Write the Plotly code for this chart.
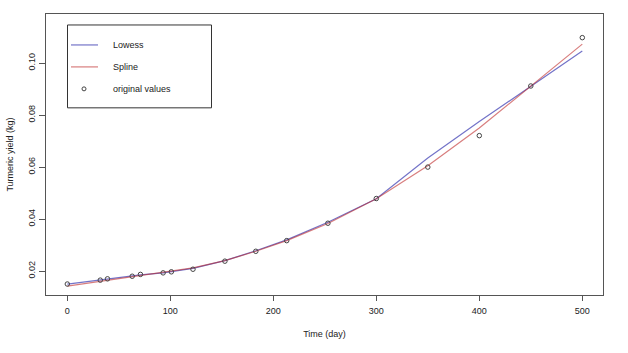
import plotly.graph_objects as go

# Data
time_day = [0, 32, 39, 63, 71, 93, 101, 122, 153, 183, 213, 253, 300, 350, 400, 450, 500]
yield_kg = [0.0150, 0.0165, 0.0170, 0.0180, 0.0187, 0.0193, 0.0197, 0.0207, 0.0238,
            0.0276, 0.0317, 0.0384, 0.0479, 0.0600, 0.0721, 0.0912, 0.1098]
lowess_fit = [0.0150, 0.0166, 0.0170, 0.0180, 0.0185, 0.0193, 0.0197, 0.0210, 0.0240,
              0.0278, 0.0320, 0.0388, 0.0478, 0.0635, 0.0775, 0.0912, 0.1047]
spline_fit = [0.0142, 0.0160, 0.0165, 0.0178, 0.0183, 0.0195, 0.0199, 0.0212, 0.0240,
              0.0276, 0.0317, 0.0383, 0.0478, 0.0605, 0.0750, 0.0912, 0.1073]

x_ticks = [0, 100, 200, 300, 400, 500]
y_ticks = [0.02, 0.04, 0.06, 0.08, 0.10]
y_tick_labels = ["0.02", "0.04", "0.06", "0.08", "0.10"]
legend_labels = ["Lowess", "Spline", "original values"]

BLUE = "rgba(40,40,170,0.65)"
RED = "rgba(190,40,40,0.6)"
FONT = "Liberation Sans, Arial, sans-serif"

fig = go.Figure()
fig.add_trace(go.Scatter(x=time_day, y=lowess_fit, mode="lines",
                         line=dict(color=BLUE, width=1.2), showlegend=False))
fig.add_trace(go.Scatter(x=time_day, y=spline_fit, mode="lines",
                         line=dict(color=RED, width=1.2), showlegend=False))
fig.add_trace(go.Scatter(x=time_day, y=yield_kg, mode="markers",
                         marker=dict(symbol="circle-open", size=4.5, color="#444444",
                                     line=dict(width=1)), showlegend=False))

W, H = 628, 353
ml, mr, mt, mb = 46, 25, 14, 57.5
pw, ph = W - ml - mr, H - mt - mb

def px(x):
    return (x - ml) / pw

def py(y):
    return 1 - (y - mt) / ph

shapes = []
annotations = []
# custom legend box
shapes.append(dict(type="rect", xref="paper", yref="paper",
                   x0=px(67.5), x1=px(211.5), y0=py(108), y1=py(25),
                   line=dict(color="#333333", width=1), fillcolor="white"))
rows = [45, 67, 89]
shapes.append(dict(type="line", xref="paper", yref="paper",
                   x0=px(71), x1=px(98), y0=py(rows[0]), y1=py(rows[0]),
                   line=dict(color=BLUE, width=1.2)))
shapes.append(dict(type="line", xref="paper", yref="paper",
                   x0=px(71), x1=px(98), y0=py(rows[1]), y1=py(rows[1]),
                   line=dict(color=RED, width=1.2)))
shapes.append(dict(type="circle", xref="paper", yref="paper",
                   xsizemode="pixel", ysizemode="pixel",
                   xanchor=px(84), yanchor=py(rows[2]),
                   x0=-2, x1=2, y0=-2, y1=2,
                   line=dict(color="#444444", width=1)))
for lab, r in zip(legend_labels, rows):
    annotations.append(dict(text=lab, xref="paper", yref="paper",
                            x=px(111), y=py(r), xanchor="left", yanchor="middle",
                            showarrow=False, font=dict(family=FONT, size=9, color="#222222")))

fig.update_layout(
    width=W, height=H,
    margin=dict(l=ml, r=mr, t=mt, b=mb, pad=0, autoexpand=False),
    paper_bgcolor="white", plot_bgcolor="white",
    font=dict(family=FONT, size=9, color="#222222"),
    shapes=shapes, annotations=annotations,
    xaxis=dict(range=[-20.7, 520.1], tickvals=x_ticks, ticks="outside", ticklen=5,
               tickcolor="#555555", showgrid=False, zeroline=False, automargin=False,
               showline=True, linecolor="#555555", linewidth=1, mirror=True,
               ticklabelstandoff=2,
               title=dict(text="Time (day)", standoff=15, font=dict(size=9)),
               tickfont=dict(size=9)),
    yaxis=dict(range=[0.01078, 0.1189], tickvals=y_ticks, ticktext=y_tick_labels,
               tickangle=-90, ticks="outside", ticklen=6, automargin=False,
               tickcolor="#555555", showgrid=False, zeroline=False,
               showline=True, linecolor="#555555", linewidth=1, mirror=True,
               title=dict(text="Turmeric yield (kg)", standoff=12, font=dict(size=9)),
               tickfont=dict(size=9)),
)

fig.write_html("out.html")
